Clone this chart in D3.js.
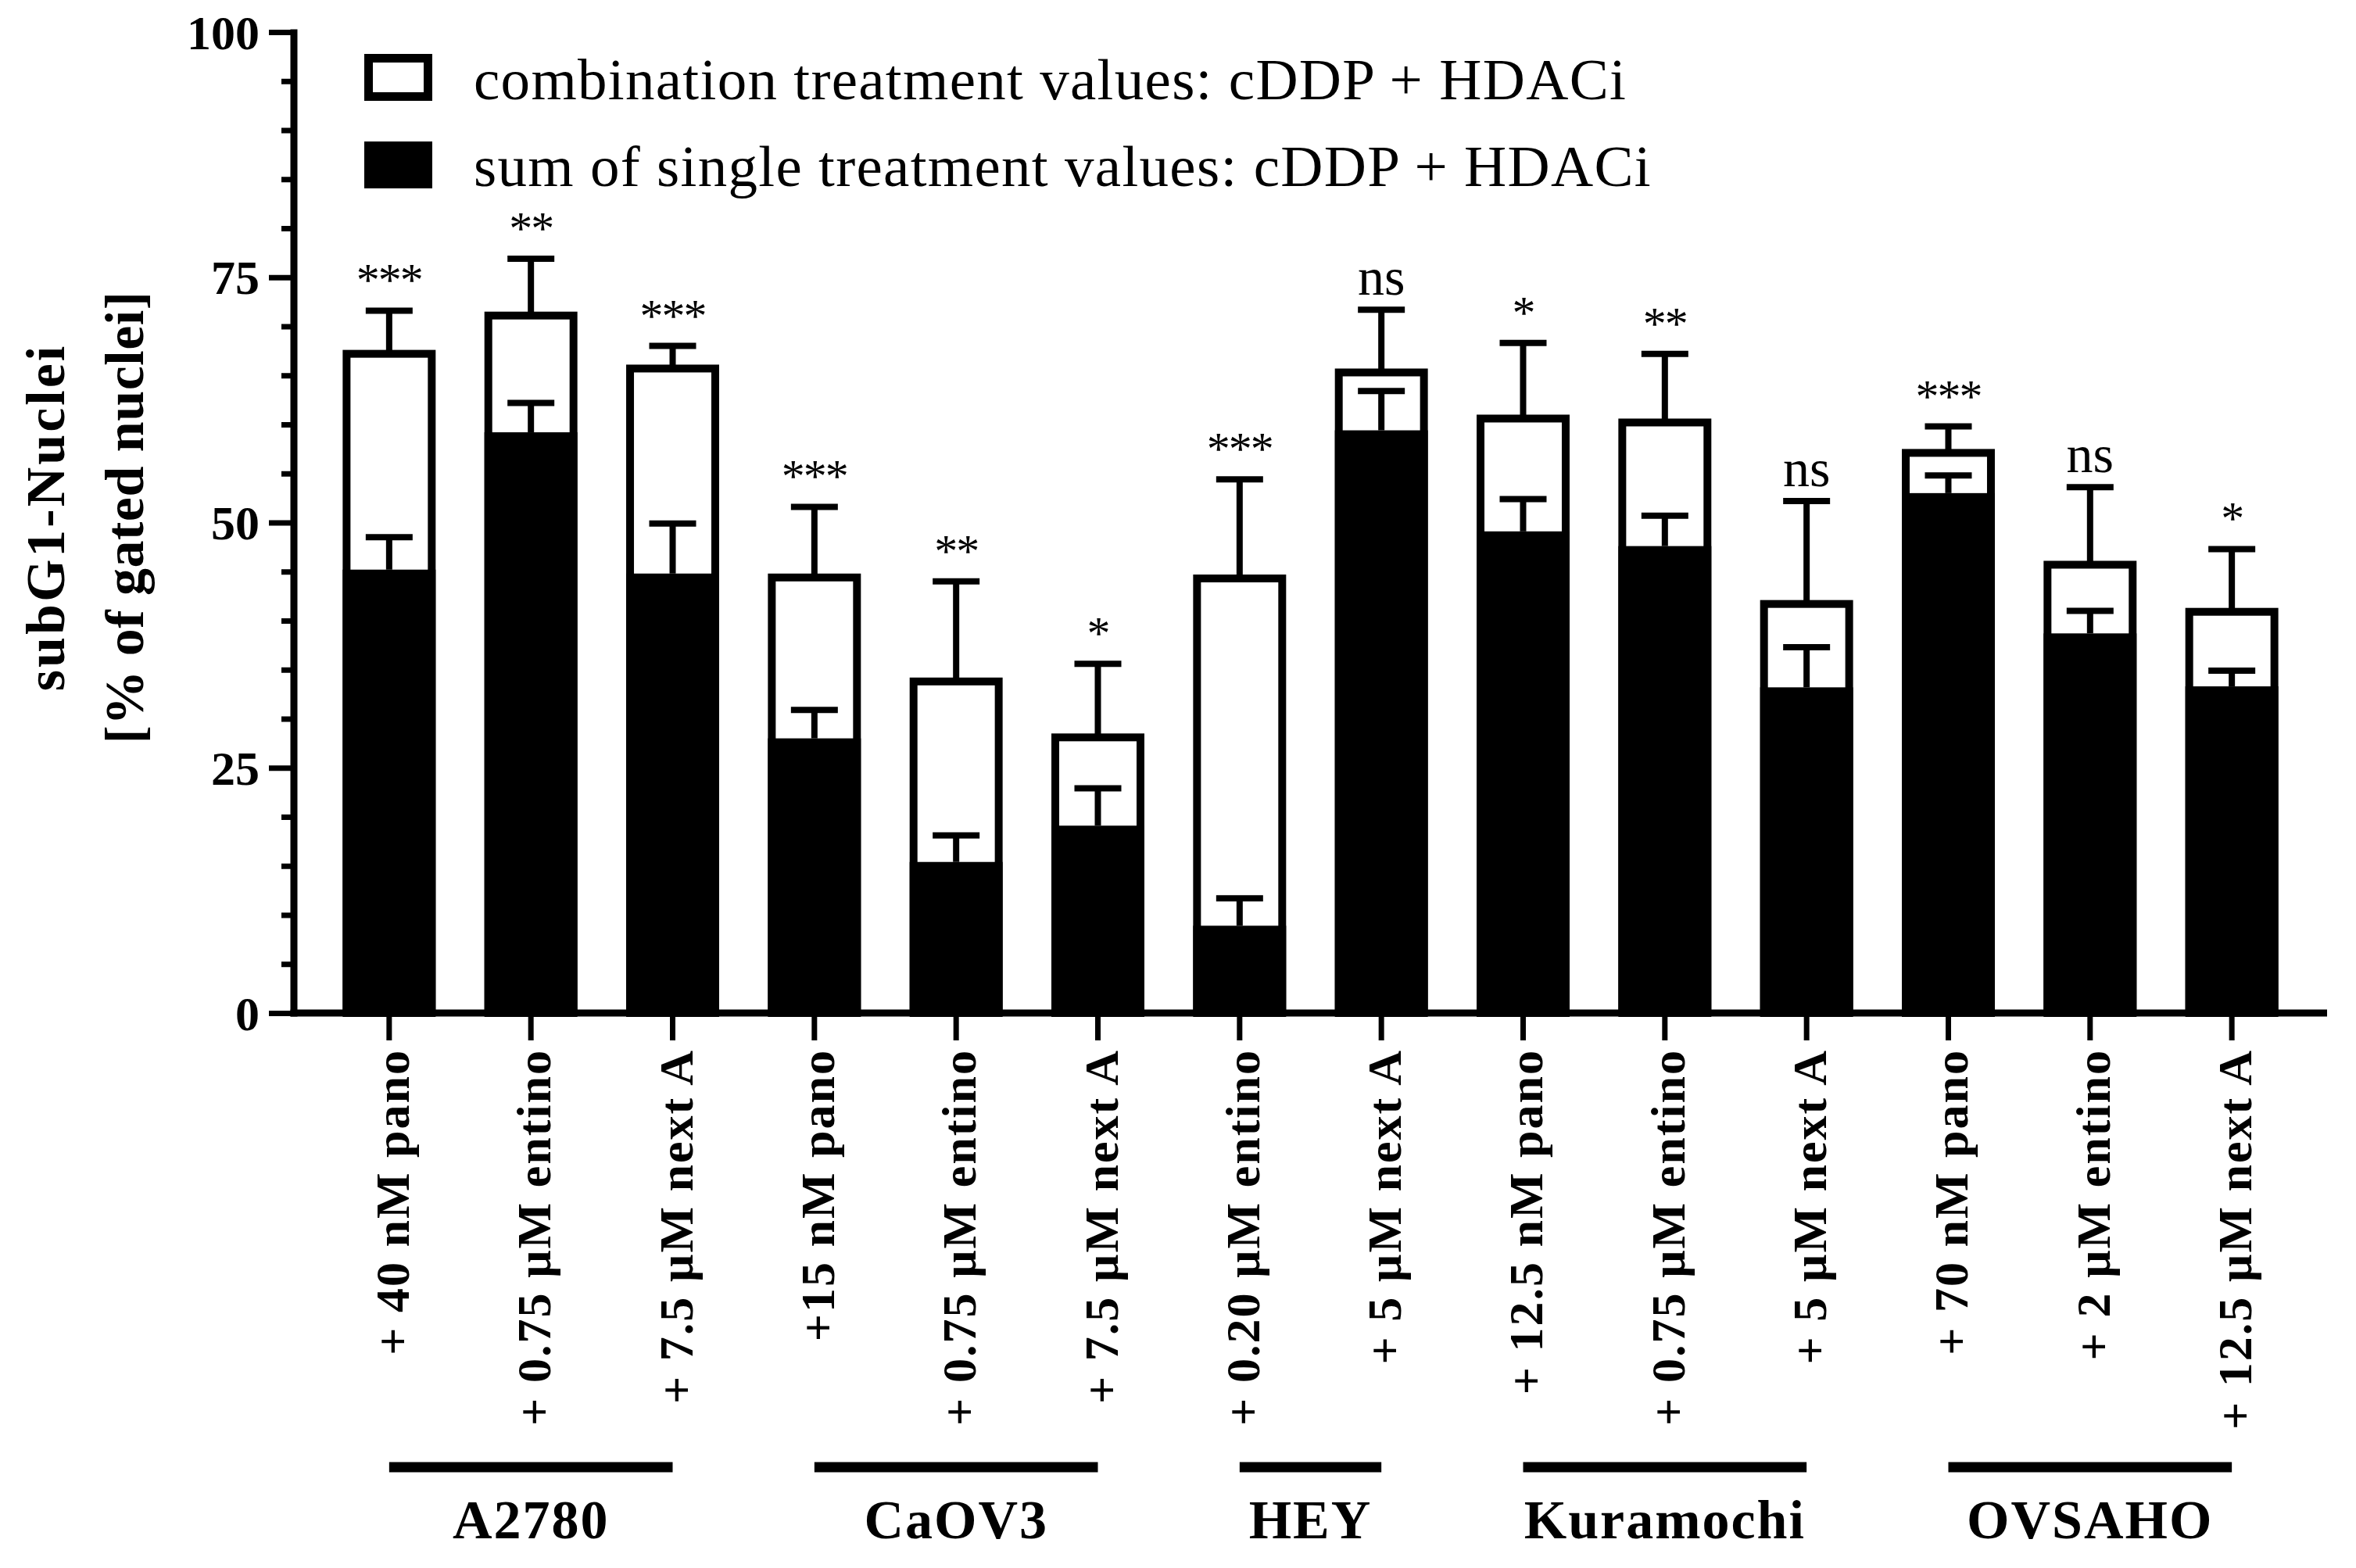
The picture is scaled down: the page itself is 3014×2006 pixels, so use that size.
<!DOCTYPE html>
<html>
<head>
<meta charset="utf-8">
<script src="https://cdn.jsdelivr.net/npm/d3@7"></script>
<style>
  html, body { margin: 0; padding: 0; background: #fff; }
  svg { display: block; }
</style>
</head>
<body>
<script>
// ---------- data ----------
const treatments = ["+ 40 nM pano", "+ 0.75 µM entino", "+ 7.5 µM next A",
  "+15 nM pano", "+ 0.75 µM entino", "+ 7.5 µM next A",
  "+ 0.20 µM entino", "+ 5 µM next A",
  "+ 12.5 nM pano", "+ 0.75 µM entino", "+ 5 µM next A",
  "+ 70 nM pano", "+ 2 µM entino", "+ 12.5 µM next A"];
const cellLines = ["A2780", "CaOV3", "HEY", "Kuramochi", "OVSAHO"];
const groupOf = [0,0,0, 1,1,1, 2,2, 3,3,3, 4,4,4];
const combination = [67.2, 71.1, 65.7, 44.4, 33.8, 28.1, 44.3, 65.3, 60.6, 60.2, 41.7, 57.1, 45.7, 40.9];
const combinationSD = [4.4, 5.8, 2.3, 7.2, 10.2, 7.5, 10.1, 6.4, 7.7, 7.0, 10.5, 2.7, 7.9, 6.4];
const singleSum = [45.2, 59.2, 44.8, 28.0, 15.4, 19.1, 8.9, 59.4, 49.1, 47.6, 33.2, 53.0, 38.7, 33.3];
const singleSumSD = [3.3, 3.0, 5.1, 2.9, 2.7, 3.8, 2.8, 4.0, 3.3, 3.1, 4.1, 1.8, 2.3, 1.6];
const significance = ["***", "**", "***", "***", "**", "*", "***", "ns", "*", "**", "ns", "***", "ns", "*"];
const yMajorTicks = [0, 25, 50, 75, 100];
const legendLabels = ["combination treatment values: cDDP + HDACi",
  "sum of single treatment values: cDDP + HDACi"];
const yTitle = ["subG1-Nuclei", "[% of gated nuclei]"];

// ---------- layout ----------
const W = 3014, H = 2006;
const serif = "'Liberation Serif', 'Times New Roman', serif";
const svg = d3.select("body").append("svg").attr("width", W).attr("height", H)
  .style("background", "#fff");

const xLeft = 376, xRight = 2977, yBottom = 1296, yTop = 41;
const x = d3.scaleBand().domain(d3.range(treatments.length))
  .range([xLeft, xRight]).paddingInner(0.344).paddingOuter(0.344);
const y = d3.scaleLinear().domain([0, 100]).range([yBottom, yTop]);
const bw = x.bandwidth();
const barStroke = 10, errStroke = 8, capW = 60;

const bars = svg.append("g");
const idx = d3.range(treatments.length);

// combination (white, outlined)
bars.selectAll("rect.combo").data(idx).join("rect")
  .attr("class", "combo")
  .attr("x", i => x(i) + barStroke / 2)
  .attr("width", bw - barStroke)
  .attr("y", i => y(combination[i]))
  .attr("height", i => y(0) - y(combination[i]))
  .attr("fill", "#fff").attr("stroke", "#000").attr("stroke-width", barStroke);

// sum of single (black)
bars.selectAll("rect.single").data(idx).join("rect")
  .attr("class", "single")
  .attr("x", i => x(i))
  .attr("width", bw)
  .attr("y", i => y(singleSum[i]))
  .attr("height", i => y(0) - y(singleSum[i]))
  .attr("fill", "#000");

// error bars
function errorBars(cls, vals, sds) {
  const g = svg.append("g").attr("class", cls)
    .attr("stroke", "#000").attr("stroke-width", errStroke);
  g.selectAll("line.stem").data(idx).join("line").attr("class", "stem")
    .attr("x1", i => x(i) + bw / 2).attr("x2", i => x(i) + bw / 2)
    .attr("y1", i => y(vals[i])).attr("y2", i => y(vals[i] + sds[i]));
  g.selectAll("line.cap").data(idx).join("line").attr("class", "cap")
    .attr("x1", i => x(i) + bw / 2 - capW / 2).attr("x2", i => x(i) + bw / 2 + capW / 2)
    .attr("y1", i => y(vals[i] + sds[i])).attr("y2", i => y(vals[i] + sds[i]));
}
errorBars("err-combo", combination, combinationSD);
errorBars("err-single", singleSum, singleSumSD);

// significance labels
svg.append("g").selectAll("text").data(idx).join("text")
  .attr("x", i => x(i) + bw / 2)
  .attr("y", i => y(combination[i] + combinationSD[i]) - 19)
  .attr("text-anchor", "middle")
  .attr("font-family", serif)
  .attr("font-size", i => significance[i] === "ns" ? 68 : 60)
  .attr("letter-spacing", i => significance[i] === "ns" ? 0 : -2)
  .attr("fill", "#000")
  .text(i => significance[i]);

// ---------- axes ----------
const yAxisG = svg.append("g").attr("transform", `translate(${xLeft},0)`);
const yAxis = d3.axisLeft(y).tickValues(d3.range(0, 101, 5))
  .tickSize(16).tickFormat(d => yMajorTicks.includes(d) ? d : "");
yAxisG.call(yAxis);
yAxisG.select(".domain").remove();
yAxisG.selectAll(".tick line")
  .attr("stroke", "#000").attr("stroke-width", 7)
  .attr("x2", d => yMajorTicks.includes(d) ? -32 : -16);
yAxisG.selectAll(".tick text")
  .attr("x", -44).attr("dy", "0.34em")
  .attr("font-family", serif).attr("font-size", 62).attr("font-weight", "bold")
  .attr("fill", "#000");
svg.append("line").attr("x1", xLeft).attr("x2", xLeft)
  .attr("y1", y(100) - 3.5).attr("y2", yBottom + 4.5)
  .attr("stroke", "#000").attr("stroke-width", 9);

const xAxisG = svg.append("g").attr("transform", `translate(0,${yBottom})`);
xAxisG.call(d3.axisBottom(x).tickSize(35).tickFormat(i => treatments[i]));
xAxisG.select(".domain").remove();
xAxisG.selectAll(".tick line").attr("stroke", "#000").attr("stroke-width", 7);
xAxisG.selectAll(".tick text")
  .attr("font-family", serif).attr("font-size", 62).attr("font-weight", "bold")
  .attr("letter-spacing", 2).attr("fill", "#000")
  .attr("text-anchor", "end")
  .attr("transform", "translate(0,46) rotate(-90)")
  .attr("x", 0).attr("y", 0).attr("dy", 25);
svg.append("line").attr("x1", xLeft - 4.5).attr("x2", xRight)
  .attr("y1", yBottom).attr("y2", yBottom)
  .attr("stroke", "#000").attr("stroke-width", 9);

// ---------- group brackets ----------
const groups = cellLines.map((name, g) => {
  const members = idx.filter(i => groupOf[i] === g);
  return { name, x1: x(members[0]) + bw / 2, x2: x(members[members.length - 1]) + bw / 2 };
});
const gg = svg.append("g");
gg.selectAll("line").data(groups).join("line")
  .attr("x1", d => d.x1).attr("x2", d => d.x2)
  .attr("y1", 1877).attr("y2", 1877)
  .attr("stroke", "#000").attr("stroke-width", 13);
gg.selectAll("text").data(groups).join("text")
  .attr("x", d => (d.x1 + d.x2) / 2).attr("y", 1968)
  .attr("text-anchor", "middle")
  .attr("font-family", serif).attr("font-size", 70).attr("font-weight", "bold")
  .attr("letter-spacing", 2).attr("fill", "#000")
  .text(d => d.name);

// ---------- y title ----------
const yTitleX = [82, 183];
svg.append("g").selectAll("text").data(yTitle).join("text")
  .attr("transform", (d, k) => `translate(${yTitleX[k]},662) rotate(-90)`)
  .attr("text-anchor", "middle")
  .attr("font-family", serif).attr("font-size", 70).attr("font-weight", "bold")
  .attr("letter-spacing", (d, k) => k === 0 ? 3 : 0.5)
  .attr("fill", "#000")
  .text(d => d);

// ---------- legend ----------
const leg = svg.append("g");
const legendFill = ["#fff", "#000"];
const legY = [69, 181];
leg.selectAll("rect").data(legendLabels).join("rect")
  .attr("x", 466 + 5.5).attr("y", (d, k) => legY[k] + 5.5)
  .attr("width", 87 - 11).attr("height", 60 - 11)
  .attr("fill", (d, k) => legendFill[k]).attr("stroke", "#000").attr("stroke-width", 11);
leg.selectAll("text").data(legendLabels).join("text")
  .attr("x", 606).attr("y", (d, k) => [127, 238][k])
  .attr("font-family", serif).attr("font-size", 75)
  .attr("letter-spacing", 1.3).attr("fill", "#000")
  .text(d => d);
</script>
</body>
</html>
